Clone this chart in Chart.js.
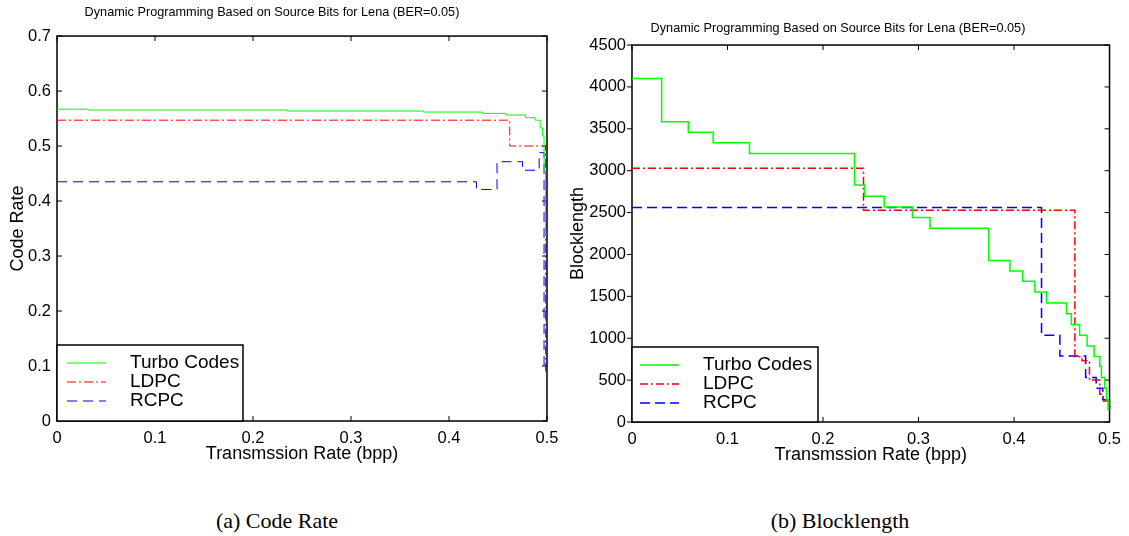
<!DOCTYPE html>
<html>
<head>
<meta charset="utf-8">
<script src="https://cdn.jsdelivr.net/npm/chart.js@4.4.0/dist/chart.umd.min.js"></script>
<style>
  body { margin: 0; background: #fff; width: 1129px; height: 536px; position: relative; overflow: hidden; }
  canvas { position: absolute; top: 0; }
  #rateChart { left: -3px; }
  #lengthChart { left: 566px; }
  .caption { position: absolute; top: 508px; font-family: "Liberation Serif", "Times New Roman", serif; font-size: 22px; transform: translateX(-50%); white-space: nowrap; color: #000; }
</style>
</head>
<body>
<canvas id="rateChart" width="570" height="470"></canvas>
<canvas id="lengthChart" width="563" height="470"></canvas>
<div class="caption" style="left:277px">(a) Code Rate</div>
<div class="caption" style="left:840px">(b) Blocklength</div>
<script>
const titleText = 'Dynamic Programming Based on Source Bits for Lena (BER=0.05)';
const xTitle = 'Transmssion Rate (bpp)';
const seriesNames = ['Turbo Codes', 'LDPC', 'RCPC'];
const xTicks = [0, 0.1, 0.2, 0.3, 0.4, 0.5];
const rateTicks = [0, 0.1, 0.2, 0.3, 0.4, 0.5, 0.6, 0.7];
const lengthTicks = [0, 500, 1000, 1500, 2000, 2500, 3000, 3500, 4000, 4500];

// (a) code rate -- each x is where a step starts
const turboRateX = [0, 0.032, 0.235, 0.374, 0.434, 0.458, 0.478, 0.488, 0.493, 0.4955, 0.497, 0.4985, 0.5];
const turboRateY = [0.567, 0.5655, 0.5636, 0.5618, 0.5594, 0.5564, 0.5515, 0.547, 0.533, 0.518, 0.455, 0.34, 0.34];
const ldpcRateX = [0, 0.462, 0.4985, 0.5];
const ldpcRateY = [0.547, 0.5, 0.09, 0.09];
const rcpcRateX = [0, 0.428, 0.449, 0.475, 0.492, 0.497, 0.5];
const rcpcRateY = [0.435, 0.421, 0.4715, 0.456, 0.488, 0.1, 0.1];

// (b) blocklength
const turboLenX = [0, 0.031, 0.059, 0.085, 0.123, 0.233, 0.2435, 0.264, 0.2936, 0.312, 0.3735, 0.3957, 0.409, 0.4218, 0.434, 0.455, 0.460, 0.4687, 0.4765, 0.4838, 0.4898, 0.4915, 0.495, 0.4968, 0.4985, 0.5];
const turboLenY = [4100, 3585, 3460, 3335, 3205, 2828, 2694, 2567, 2440, 2314, 1929, 1803, 1679, 1553, 1422, 1292, 1165, 1037, 907, 781, 662, 531, 404, 265, 146, 146];
const ldpcLenX = [0, 0.2424, 0.4637, 0.4712, 0.479, 0.4898, 0.4935, 0.5];
const ldpcLenY = [3030, 2528, 780, 730, 500, 330, 250, 150];
const rcpcLenX = [0, 0.4288, 0.448, 0.475, 0.486, 0.493, 0.5];
const rcpcLenY = [2560, 1037, 788, 531, 404, 265, 150];

const tickFont = { family: 'Arial', size: 16.5 };
const axisFont = { family: 'Arial', size: 18, lineHeight: 1.2 };

function steps(xs, ys) {
    return xs.map((x, i) => ({ x: x, y: ys[i] }));
}

// box with MATLAB style tick marks
const framePlugin = {
    id: 'frame',
    beforeDatasetsDraw(chart, args, opts) {
        const { ctx, chartArea: a, scales: { x, y } } = chart;
        const t = 5;
        ctx.save();
        ctx.strokeStyle = '#000';
        ctx.lineWidth = opts.width;
        ctx.strokeRect(a.left, a.top, a.right - a.left, a.bottom - a.top);
        ctx.lineWidth = 1;
        ctx.beginPath();
        x.ticks.forEach(tk => {
            const px = x.getPixelForValue(tk.value);
            ctx.moveTo(px, a.bottom); ctx.lineTo(px, a.bottom - t);
            ctx.moveTo(px, a.top); ctx.lineTo(px, a.top + t);
        });
        y.ticks.forEach(tk => {
            const py = y.getPixelForValue(tk.value);
            ctx.moveTo(a.left, py); ctx.lineTo(opts.leftOut ? a.left - t : a.left + t, py);
            ctx.moveTo(a.right, py); ctx.lineTo(a.right - t, py);
        });
        ctx.stroke();
        ctx.restore();
    }
};

// legend box sitting in the lower left corner of the plot
const boxLegend = {
    id: 'boxLegend',
    afterDraw(chart, args, opts) {
        const { ctx, chartArea: a } = chart;
        const left = a.left, top = a.bottom - opts.height;
        ctx.save();
        ctx.fillStyle = '#fff';
        ctx.fillRect(left, top, opts.width, opts.height);
        ctx.strokeStyle = '#000';
        ctx.lineWidth = 1.5;
        ctx.strokeRect(left, top, opts.width, opts.height);
        chart.data.datasets.forEach((ds, i) => {
            const yy = a.bottom - opts.rows[i];
            ctx.strokeStyle = ds.borderColor;
            ctx.lineWidth = ds.borderWidth;
            ctx.setLineDash(ds.borderDash || []);
            ctx.beginPath();
            ctx.moveTo(left + opts.lineFrom, yy);
            ctx.lineTo(left + opts.lineTo, yy);
            ctx.stroke();
            ctx.setLineDash([]);
            ctx.fillStyle = '#000';
            ctx.font = '19px Arial';
            ctx.textBaseline = 'middle';
            ctx.fillText(ds.label, left + opts.textX, yy);
        });
        ctx.restore();
    }
};

function makeChart(id, cfg) {
    return new Chart(document.getElementById(id), {
        type: 'line',
        data: {
            datasets: [
                { label: seriesNames[0], data: steps(cfg.turbo[0], cfg.turbo[1]), borderColor: '#00ff00', borderWidth: cfg.lw, stepped: true, clip: false },
                { label: seriesNames[1], data: steps(cfg.ldpc[0], cfg.ldpc[1]), borderColor: '#ff0000', borderWidth: cfg.lw, borderDash: cfg.dashDot, stepped: true, clip: false },
                { label: seriesNames[2], data: steps(cfg.rcpc[0], cfg.rcpc[1]), borderColor: '#0000ff', borderWidth: cfg.lw, borderDash: cfg.dash, stepped: true, clip: false }
            ]
        },
        plugins: [framePlugin, boxLegend],
        options: {
            responsive: false,
            animation: false,
            devicePixelRatio: 1,
            layout: { padding: { left: 0, right: cfg.padRight, top: 0, bottom: cfg.padBottom } },
            elements: { point: { radius: 0 }, line: { tension: 0, fill: false } },
            plugins: {
                legend: { display: false },
                tooltip: { enabled: false },
                title: {
                    display: true, text: titleText, color: '#000',
                    font: { family: 'Arial', size: 12.7, weight: 'normal', lineHeight: 1.2 },
                    padding: cfg.titlePad
                },
                frame: { width: 1.5, leftOut: cfg.leftOut },
                boxLegend: cfg.legend
            },
            scales: {
                x: {
                    type: 'linear', min: 0, max: 0.5,
                    afterBuildTicks: s => { s.ticks = xTicks.map(v => ({ value: v })); },
                    afterFit: s => { s.height = 44; },
                    grid: { display: false, drawTicks: false },
                    border: { display: false },
                    ticks: { color: '#000', padding: 8, font: tickFont, maxRotation: 0, callback: v => String(v) },
                    title: { display: true, text: xTitle, color: '#000', font: axisFont, padding: 0 }
                },
                y: {
                    type: 'linear', min: 0, max: cfg.yMax,
                    afterBuildTicks: s => { s.ticks = cfg.yTicks.map(v => ({ value: v })); },
                    afterFit: s => { s.width = cfg.yWidth; },
                    grid: { display: false, drawTicks: false },
                    border: { display: false },
                    ticks: { color: '#000', padding: 6, font: tickFont, callback: v => String(v) },
                    title: { display: true, text: cfg.yTitle, color: '#000', font: axisFont, padding: { top: cfg.yTitlePad, bottom: 0 } }
                }
            }
        }
    });
}

makeChart('rateChart', {
    turbo: [turboRateX, turboRateY], ldpc: [ldpcRateX, ldpcRateY], rcpc: [rcpcRateX, rcpcRateY],
    lw: 1, dashDot: [9, 3, 2, 3], dash: [10, 6],
    yMax: 0.7, yTicks: rateTicks, yTitle: 'Code Rate', yWidth: 60, yTitlePad: 10.2,
    padRight: 20, padBottom: 5, titlePad: { top: 4.5, bottom: 16.3 }, leftOut: false,
    legend: { width: 186, height: 76, rows: [58, 39, 20], lineFrom: 10, lineTo: 49, textX: 73 }
});

makeChart('lengthChart', {
    turbo: [turboLenX, turboLenY], ldpc: [ldpcLenX, ldpcLenY], rcpc: [rcpcLenX, rcpcLenY],
    lw: 1.5, dashDot: [8, 3, 2, 3], dash: [10, 5],
    yMax: 4500, yTicks: lengthTicks, yTitle: 'Blocklength', yWidth: 66, yTitlePad: 1.2,
    padRight: 19, padBottom: 4, titlePad: { top: 20.4, bottom: 9.4 }, leftOut: true,
    legend: { width: 186, height: 75, rows: [57, 38, 19], lineFrom: 8, lineTo: 47, textX: 71 }
});
</script>
</body>
</html>
